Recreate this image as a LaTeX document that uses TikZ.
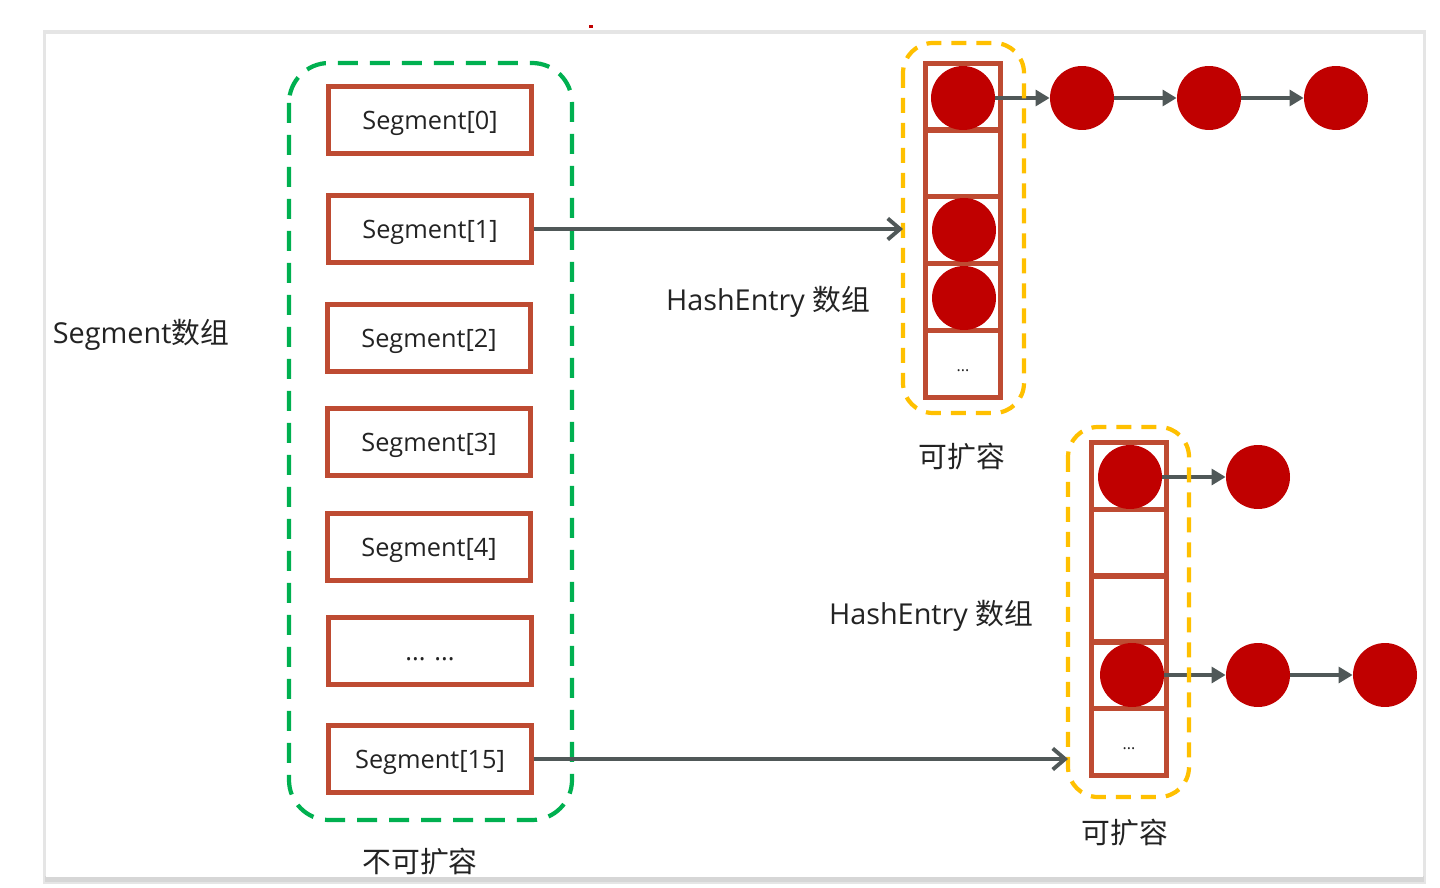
\documentclass[tikz,border=0pt]{standalone}
\usepackage{fontspec}
\setmainfont{Open Sans}
\newfontfamily\cjk{Noto Sans CJK SC}
\usetikzlibrary{arrows.meta}
\definecolor{boxred}{RGB}{190,75,50}
\definecolor{dotred}{RGB}{192,0,0}
\definecolor{grn}{RGB}{0,176,80}
\definecolor{ylw}{RGB}{255,192,0}
\definecolor{arr}{RGB}{80,88,88}
\definecolor{txt}{RGB}{35,35,35}
\begin{document}
\begin{tikzpicture}[x=0.02cm,y=-0.02cm,
  segbox/.style={draw=boxred,line width=2.5pt,minimum width=4.06cm,minimum height=1.34cm,inner sep=0pt,font=\fontsize{14.4}{16}\selectfont,text=txt,text height=12pt,text depth=1pt},
  cell/.style={draw=boxred,line width=2.5pt,minimum width=1.5cm,minimum height=1.34cm,inner sep=0pt,font=\fontsize{9}{10}\selectfont,text=txt,text height=8pt,text depth=0pt},
  ball/.style={circle,fill=dotred,minimum size=1.28cm,inner sep=0pt},
  lbl/.style={font=\fontsize{16.4}{18}\selectfont,text=txt,inner sep=0pt},
  longarr/.style={draw=arr,line width=2.2pt,-{Straight Barb[length=7pt,width=12pt,line width=2.2pt]}},
  shortarr/.style={draw=arr,line width=2.2pt,-{Triangle[length=8pt,width=9pt]}},
  grnbox/.style={draw=grn,line width=2.4pt,dash pattern=on 0.4cm off 0.24cm,rounded corners=0.8cm},
  ylwbox/.style={draw=ylw,line width=2.4pt,dash pattern=on 0.3cm off 0.2cm,rounded corners=0.6cm}]
\useasboundingbox (0,0) rectangle (1440,888);
\fill[white] (0,0) rectangle (1440,888);
% card with shadow
\fill[black!10] (43,30) rectangle (1426,884);
\fill[black!16] (45,876) rectangle (1424,882);
\fill[white] (46,34) rectangle (1423,877);
\fill[dotred] (589,25) rectangle (593,28);

% segments
\node[segbox] (s0) at (430,120) {Segment[0]};
\node[segbox] (s1) at (430,229) {Segment[1]};
\node[segbox] (s2) at (429,338) {Segment[2]};
\node[segbox] (s3) at (429,442) {Segment[3]};
\node[segbox] (s4) at (429,547) {Segment[4]};
\node[segbox] (s5) at (430,651) {... ...};
\node[segbox] (s15) at (430,759) {Segment[15]};
\draw[grnbox] (289,63) rectangle (572,820);
\node[lbl] (segl) at (141,335) {Segment{\cjk 数组}};
\node[lbl] (fix) at (420,862) {\cjk 不可扩容};

% top hash array
\node[cell] (a0) at (963,97) {};
\node[cell] (a1) at (963,163) {};
\node[cell] (a2) at (963,230) {};
\node[cell] (a3) at (963,297) {};
\node[cell] (a4) at (963,364) {...};
\node[ball] (c0) at (963,98) {};
\node[ball] (c2) at (964,230) {};
\node[ball] (c3) at (964,298) {};
\node[ball] (t1) at (1082,98) {};
\node[ball] (t2) at (1209,98) {};
\node[ball] (t3) at (1336,98) {};
\draw[shortarr] (c0) -- (t1);
\draw[shortarr] (t1) -- (t2);
\draw[shortarr] (t2) -- (t3);
\draw[ylwbox] (903,43) rectangle (1024,413);
\coordinate (e1) at (903,229);
\draw[longarr] (s1.east) -- (e1);
\node[lbl] (h1) at (768,302) {HashEntry {\cjk 数组}};
\node[lbl] (x1) at (962,457) {\cjk 可扩容};

% bottom hash array
\node[cell] (b0) at (1129,476) {};
\node[cell] (b1) at (1129,543) {};
\node[cell] (b2) at (1129,609) {};
\node[cell] (b3) at (1129,675) {};
\node[cell] (b4) at (1129,742) {...};
\node[ball] (d0) at (1130,477) {};
\node[ball] (d3) at (1132,675) {};
\node[ball] (u1) at (1258,477) {};
\node[ball] (v1) at (1258,675) {};
\node[ball] (v2) at (1385,675) {};
\draw[shortarr] (d0) -- (u1);
\draw[shortarr] (d3) -- (v1);
\draw[shortarr] (v1) -- (v2);
\draw[ylwbox] (1068,427) rectangle (1189,797);
\coordinate (e2) at (1068,759);
\draw[longarr] (s15.east) -- (e2);
\node[lbl] (h2) at (931,616) {HashEntry {\cjk 数组}};
\node[lbl] (x2) at (1125,833) {\cjk 可扩容};
\end{tikzpicture}
\end{document}
